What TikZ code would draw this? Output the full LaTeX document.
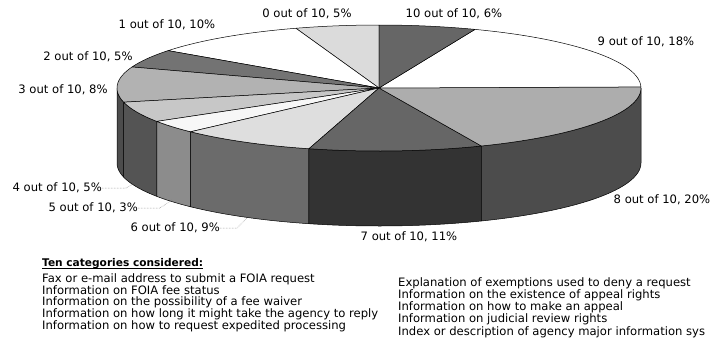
\documentclass[tikz,border=0pt]{standalone}
\usepackage{fontspec}
\setmainfont{DejaVu Sans}
\usetikzlibrary{calc}
\definecolor{topzero}{gray}{0.86}
\definecolor{topone}{gray}{1.00}
\definecolor{toptwo}{gray}{0.45}
\definecolor{topthree}{gray}{0.70}
\definecolor{topfour}{gray}{0.78}
\definecolor{topfive}{gray}{0.97}
\definecolor{topsix}{gray}{0.87}
\definecolor{topseven}{gray}{0.40}
\definecolor{topeight}{gray}{0.68}
\definecolor{topnine}{gray}{1.00}
\definecolor{topten}{gray}{0.40}
\definecolor{sidethree}{gray}{0.30}
\definecolor{sidefour}{gray}{0.33}
\definecolor{sidefive}{gray}{0.55}
\definecolor{sidesix}{gray}{0.42}
\definecolor{sideseven}{gray}{0.20}
\definecolor{sideeight}{gray}{0.30}
\tikzset{
  slice/.style={draw=black,line width=0.5pt,line join=round},
  lab/.style={font=\fontsize{11.6}{13}\selectfont,inner sep=0pt},
  column/.style={inner sep=0pt,anchor=north west,align=left},
  leader/.style={black!55,line width=0.5pt,densely dotted},
}
% top face of one slice, angles in degrees
\newcommand{\topslice}[3]{%
  \filldraw[slice,fill=#3] (379,88) -- plot[domain=#1:#2,samples=30]
    ({379+262*cos(\x)},{88-63*sin(\x)}) -- cycle;}
% front wall of one slice
\newcommand{\sideslice}[3]{%
  \filldraw[slice,fill=#3] plot[domain=#1:#2,samples=30]
    ({379+262*cos(\x)},{88-63*sin(\x)})
    -- plot[domain=#2:#1,samples=30] ({379+262*cos(\x)},{163-63*sin(\x)}) -- cycle;}

\begin{document}
\begin{tikzpicture}[x=1pt,y=-1pt]
  \path[use as bounding box] (0,0) rectangle (715,349);

  % walls
  \sideslice{180}{193}{sidethree}
  \sideslice{193}{212}{sidefour}
  \sideslice{212}{224}{sidefive}
  \sideslice{224}{254.5}{sidesix}
  \sideslice{254.5}{293}{sideseven}
  \sideslice{293}{360}{sideeight}

  % top
  \topslice{90}{108.5}{topzero}
  \topslice{108.5}{143.6}{topone}
  \topslice{143.6}{160.5}{toptwo}
  \topslice{160.5}{193}{topthree}
  \topslice{193}{212}{topfour}
  \topslice{212}{224}{topfive}
  \topslice{224}{254.5}{topsix}
  \topslice{254.5}{293}{topseven}
  \topslice{293}{361}{topeight}
  \topslice{1}{68.5}{topnine}
  \topslice{68.5}{90}{topten}

  % slice labels
  \node[lab] (l0) at (307,14) {0 out of 10, 5\%};
  \node[lab] (l10) at (454,14) {10 out of 10, 6\%};
  \node[lab] (l1) at (167,25) {1 out of 10, 10\%};
  \node[lab] (l9) at (646,42) {9 out of 10, 18\%};
  \node[lab] (l2) at (88,57) {2 out of 10, 5\%};
  \node[lab] (l3) at (63,90) {3 out of 10, 8\%};
  \node[lab,anchor=east] (l4) at (102,188) {4 out of 10, 5\%};
  \node[lab,anchor=east] (l5) at (138,208) {5 out of 10, 3\%};
  \node[lab,anchor=east] (l6) at (220,228) {6 out of 10, 9\%};
  \node[lab] (l7) at (409,237) {7 out of 10, 11\%};
  \node[lab] (l8) at (662,200) {8 out of 10, 20\%};

  \coordinate (p4) at (133,184);
  \coordinate (p5) at (172,200);
  \coordinate (p6) at (247,218);
  \draw[leader] (l4.east) -- ++(24,0) -- (p4);
  \draw[leader] (l5.east) -- ++(22,0) -- (p5);
  \draw[leader] (l6.east) -- ++(17,0) -- (p6);

  % categories
  \node[lab,anchor=west,font=\fontsize{10.6}{13}\selectfont\bfseries] (head) at (42,264) {Ten categories considered:};
  \draw[line width=0.7pt] ($(head.base west)+(0,1.6)$) -- ($(head.base east)+(0,1.6)$);
  \node[column,font=\fontsize{11.6}{11}\selectfont] (left) at (42,273.2)
    {Fax or e-mail address to submit a FOIA request\\
     Information on FOIA fee status\\
     Information on the possibility of a fee waiver\\
     Information on how long it might take the agency to reply\\
     Information on how to request expedited processing};
  \node[column,font=\fontsize{11.6}{10}\selectfont] (right) at (398,277.2)
    {Explanation of exemptions used to deny a request\\
     Information on the existence of appeal rights\\
     Information on how to make an appeal\\
     Information on judicial review rights\\
     Index or description of agency major information sys};
\end{tikzpicture}
\end{document}
